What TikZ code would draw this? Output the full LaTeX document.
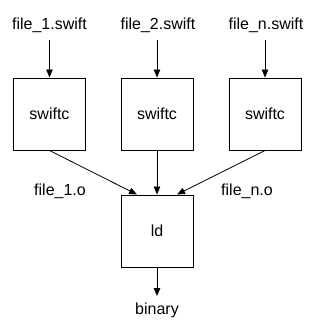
\documentclass[tikz,border=0pt]{standalone}
\usepackage{fontspec}
\setmainfont{Liberation Sans}
\usetikzlibrary{arrows.meta,calc}
\begin{document}
\begin{tikzpicture}[x=1pt,y=-1pt,
  box/.style={draw,line width=1pt,minimum width=72pt,minimum height=72pt,inner sep=0pt,font=\fontsize{16}{19}\selectfont},
  lbl/.style={inner sep=0pt,anchor=base,font=\fontsize{16}{19}\selectfont},
  arr/.style={line width=0.8pt,-{Triangle[length=8pt,width=6.5pt]}},
  ln/.style={line width=0.8pt}]
\useasboundingbox (0,0) rectangle (320,333);
\node[box] (b1) at (49.5,114) {swiftc};
\node[box] (b2) at (157,114) {swiftc};
\node[box] (b3) at (265,114) {swiftc};
\node[box] (ld) at (157,231) {ld};
\node[lbl] (f1) at (49.5,29) {file\_1.swift};
\node[lbl] (f2) at (158,29) {file\_2.swift};
\node[lbl] (f3) at (266,29) {file\_n.swift};
\node[lbl] (o1) at (60,195) {file\_1.o};
\node[lbl] (o3) at (247,195) {file\_n.o};
\node[lbl] (bin) at (157,314) {binary};
\coordinate (s1) at (49.5,40);
\coordinate (s2) at (157,40);
\coordinate (s3) at (265,40);
\coordinate (e1) at ($(ld.north)+(-20,0)$);
\coordinate (e3) at ($(ld.north)+(20,0)$);
\coordinate (eb) at (157,296);
\draw[arr] (s1) -- (b1.north);
\draw[arr] (s2) -- (b2.north);
\draw[arr] (s3) -- (b3.north);
\draw[arr] (b1.south) -- (e1);
\draw[arr] (b2.south) -- (ld.north);
\draw[arr] (b3.south) -- (e3);
\draw[arr] (ld.south) -- (eb);
\end{tikzpicture}
\end{document}
